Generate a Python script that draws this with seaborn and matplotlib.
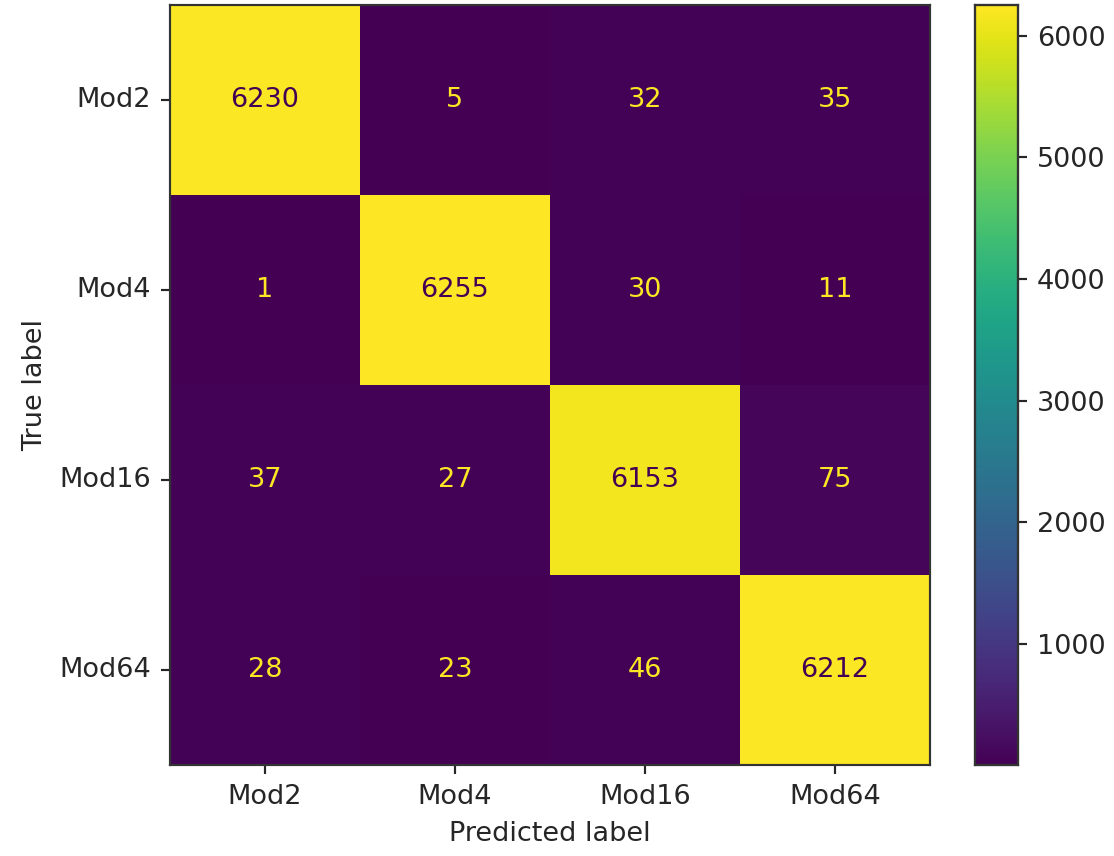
import numpy as np
import pandas as pd
import matplotlib
matplotlib.use("Agg")
import matplotlib.pyplot as plt
import seaborn as sns

labels = ["Mod2", "Mod4", "Mod16", "Mod64"]
row_mod2 = [6230, 5, 32, 35]
row_mod4 = [1, 6255, 30, 11]
row_mod16 = [37, 27, 6153, 75]
row_mod64 = [28, 23, 46, 6212]
cbar_ticks = [1000, 2000, 3000, 4000, 5000, 6000]

cm = pd.DataFrame([row_mod2, row_mod4, row_mod16, row_mod64], index=labels, columns=labels)

sns.set_style("white")
plt.rcParams['font.family'] = ['DejaVu Sans']

S = 1.95
FS = 10 * S

fig = plt.figure(figsize=(11.14, 8.56), dpi=100)
ax = fig.add_axes([0.1526, 0.1063, 0.682, 0.888])
cax = fig.add_axes([0.875, 0.1063, 0.0386, 0.888])

vmin, vmax = cm.values.min(), cm.values.max()
sns.heatmap(cm, ax=ax, cbar_ax=cax, cmap="viridis", vmin=vmin, vmax=vmax,
            annot=True, fmt="d", annot_kws={"fontsize": FS}, square=False)

cmap = plt.get_cmap("viridis")
thresh = (vmax + vmin) / 2.0
flat = cm.values.flatten()
for t, v in zip(ax.texts, flat):
    t.set_color(cmap(0.0) if v > thresh else cmap(1.0))

for s in ax.spines.values():
    s.set_visible(True)
    s.set_color("#333333")
    s.set_linewidth(0.8 * S)

ax.set_xlabel("Predicted label", fontsize=FS, color="#262626", labelpad=4 * S)
ax.set_ylabel("True label", fontsize=FS, color="#262626", labelpad=4 * S)
ax.tick_params(axis="both", which="both", length=3.5 * S, width=0.8 * S, pad=3.5 * S,
               labelsize=FS, bottom=True, left=True, color="#262626", labelcolor="#262626")
ax.set_yticklabels(labels, rotation=0)
ax.set_xticklabels(labels, rotation=0)

cax.set_yticks(cbar_ticks)
cax.set_yticklabels([str(t) for t in cbar_ticks])
cax.tick_params(axis="y", length=3.5 * S, width=0.8 * S, pad=3.5 * S, labelsize=FS,
                right=True, color="#262626", labelcolor="#262626")
for s in cax.spines.values():
    s.set_visible(True)
    s.set_color("#333333")
    s.set_linewidth(0.8 * S)

fig.savefig("out.png", dpi=100)
